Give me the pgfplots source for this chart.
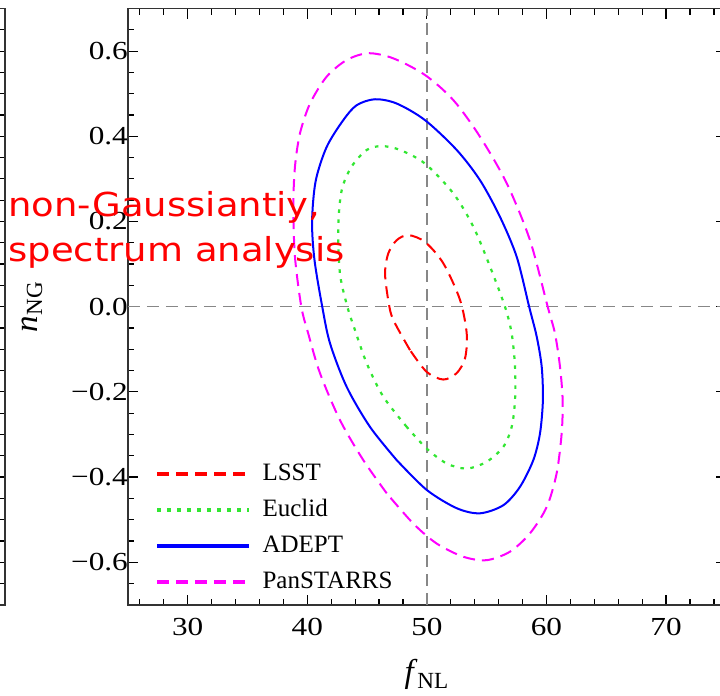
\documentclass[border=0pt]{standalone}
\usepackage{fontspec}
\setmainfont{Liberation Serif}
\newfontfamily\tickfont[FakeStretch=1.2]{Liberation Serif}
\newfontfamily\notefont[FakeStretch=1.12]{DejaVu Sans}
\usepackage{pgfplots}
\pgfplotsset{compat=1.18}

\definecolor{refgray}{RGB}{135,135,135}
\definecolor{ngreen}{RGB}{50,230,50}
\definecolor{pmag}{RGB}{255,0,255}

\begin{document}
\begin{tikzpicture}
\clip (-63.95pt,-45.55pt) rectangle (296.05pt,302.45pt);

% right edge of the neighbouring panel
\begin{axis}[
  at={(-61.45pt,0pt)}, anchor=south east,
  scale only axis, width=120pt, height=298.2pt,
  xmin=0, xmax=1, ymin=-0.7, ymax=0.7,
  xtick=\empty,
  ytick={-0.65,-0.6,-0.55,-0.5,-0.45,-0.4,-0.35,-0.3,-0.25,-0.2,-0.15,-0.1,-0.05,0,0.05,0.1,0.15,0.2,0.25,0.3,0.35,0.4,0.45,0.5,0.55,0.6,0.65},
  yticklabels={}, ytick pos=right,
  major tick length=5pt,
  tick style={black, line width=0.6pt},
  axis line style={line width=0.8pt, black!80},
]
\end{axis}

\begin{axis}[
  at={(0pt,0pt)}, anchor=south west,
  scale only axis, width=299pt, height=298.2pt,
  xmin=25, xmax=75, ymin=-0.7, ymax=0.7,
  xtick={30,40,50,60,70},
  minor xtick={26,28,...,74},
  ytick={-0.6,-0.4,-0.2,0,0.2,0.4,0.6},
  yticklabels={−0.6,−0.4,−0.2,0.0,0.2,0.4,0.6},
  minor ytick={-0.65,-0.55,-0.5,-0.45,-0.35,-0.3,-0.25,-0.15,-0.1,-0.05,0.05,0.1,0.15,0.25,0.3,0.35,0.45,0.5,0.55,0.65},
  major tick length=5pt, minor tick length=3pt,
  tick style={black, line width=0.6pt},
  axis line style={line width=0.8pt, black!80},
  /pgf/number format/assume math mode=true,
  tick label style={font=\tickfont\fontsize{13}{15}\selectfont},
  xticklabel style={yshift=-3pt},
  yticklabel style={xshift=3.5pt},
  xlabel={\textit{f}\textsubscript{NL}},
  ylabel={\textit{n}\textsubscript{NG}},
  label style={font=\fontsize{16.5}{20}\selectfont},
  xlabel style={at={(axis description cs:0.5,-0.1308)}, anchor=base},
  ylabel style={at={(axis description cs:-0.152,0.5)}, anchor=base},
  legend cell align=left,
  legend image code/.code={\draw[#1, line width=2pt] (0pt,0pt) -- (46pt,0pt); \path (50pt,0pt);},
  legend style={at={(axis cs:27.27,-0.365)}, anchor=north west,
    draw=none, fill=none, inner sep=0pt, row sep=7pt,
    font=\fontsize{12.5}{15}\selectfont,
    nodes={text height=9pt, text depth=2pt, inner ysep=0pt}},
]
\addplot[refgray, line width=0.7pt, dash pattern=on 6pt off 3.5pt, forget plot]
  coordinates {(50,-0.7) (50,0.7)};
\addplot[refgray, line width=0.7pt, dash pattern=on 6pt off 3.5pt, forget plot]
  coordinates {(25,0) (75,0)};

\addplot[red, line width=1pt, dash pattern=on 6pt off 3.5pt, smooth] coordinates {
  (48.59,-0.102) (47.19,-0.031) (46.8,0.01) (46.5,0.078) (46.77,0.125)
  (47.47,0.156) (48.45,0.168) (49.84,0.152) (51.37,0.102) (52.77,0.016)
  (53.33,-0.063) (53.19,-0.121) (52.49,-0.156) (51.37,-0.171) (49.98,-0.153)
  (48.59,-0.102)};
\addlegendentry{LSST}

\addplot[ngreen, line width=1.1pt, dash pattern=on 1.8pt off 3.2pt, smooth] coordinates {
  (48.31,-0.282) (46.35,-0.211) (44.97,-0.133) (43.99,-0.055) (43.35,0.0)
  (42.73,0.078) (42.59,0.188) (42.88,0.274) (43.71,0.329) (44.97,0.368)
  (46.22,0.377) (47.75,0.368) (49.84,0.336) (52.21,0.266) (53.88,0.188)
  (55.28,0.094) (56.53,0.0) (57.09,-0.063) (57.37,-0.141) (57.37,-0.219)
  (57.09,-0.282) (56.39,-0.329) (55.0,-0.364) (53.33,-0.380) (51.65,-0.368)
  (49.98,-0.333) (48.31,-0.282)};
\addlegendentry{Euclid}

\addplot[blue, line width=1pt, smooth] coordinates {
  (47.47,-0.360) (45.24,-0.282) (43.29,-0.188) (41.9,-0.086) (41.25,0.0)
  (40.6,0.110) (40.4,0.200) (40.7,0.295) (41.62,0.375) (43.01,0.438)
  (44.13,0.473) (45.66,0.487) (47.47,0.477) (49.84,0.438) (52.49,0.368)
  (54.44,0.297) (56.11,0.211) (57.51,0.117) (58.55,0.0) (59.18,-0.070)
  (59.6,-0.141) (59.7,-0.219) (59.46,-0.297) (58.9,-0.360) (57.78,-0.423)
  (56.39,-0.466) (54.44,-0.485) (52.49,-0.473) (49.98,-0.430) (47.47,-0.360)};
\addlegendentry{ADEPT}

\addplot[pmag, line width=1pt, dash pattern=on 6pt off 3.5pt, smooth] coordinates {
  (46.64,-0.438) (44.68,-0.360) (42.73,-0.266) (41.06,-0.156) (40.08,-0.063)
  (39.5,0.0) (38.97,0.117) (38.83,0.235) (38.97,0.329) (39.39,0.407)
  (40.23,0.477) (41.62,0.540) (43.29,0.579) (45.1,0.595) (47.19,0.583)
  (49.84,0.544) (52.21,0.485) (54.44,0.399) (56.67,0.290) (58.62,0.156)
  (60.1,0.0) (60.71,-0.063) (61.13,-0.141) (61.35,-0.219) (61.27,-0.297)
  (60.85,-0.391) (60.02,-0.470) (58.62,-0.532) (56.95,-0.575) (55.0,-0.595)
  (53.05,-0.587) (50.82,-0.556) (48.86,-0.509) (46.64,-0.438)};
\addlegendentry{PanSTARRS}
\end{axis}

\node[anchor=base west, inner sep=0pt, text=red, font=\notefont\fontsize{16.5}{25}\selectfont]
  at (-59.95pt,193.95pt) {non-Gaussiantiy,};
\node[anchor=base west, inner sep=0pt, text=red, font=\notefont\fontsize{16.5}{25}\selectfont]
  at (-59.95pt,171.45pt) {spectrum analysis};
\end{tikzpicture}
\end{document}
